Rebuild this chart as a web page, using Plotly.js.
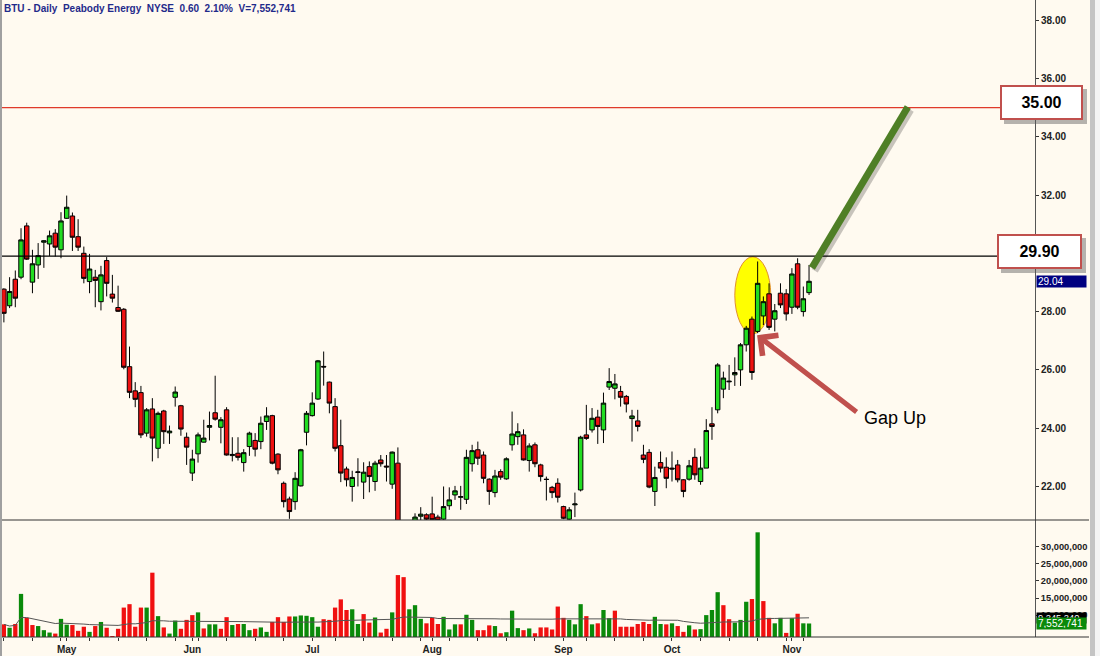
<!DOCTYPE html>
<html>
<head>
<meta charset="utf-8">
<script src="https://cdn.plot.ly/plotly-3.0.1.min.js"></script>
<style>
  html, body { margin: 0; padding: 0; background: #fffaf0; }
  #chart { width: 1100px; height: 656px; }
</style>
</head>
<body>
<div id="chart"></div>
<script>
// ---- Data (BTU daily, Apr 16 - Nov 6 2012) ----
const dates = [
 '2012-04-16','2012-04-17','2012-04-18','2012-04-19','2012-04-20','2012-04-23','2012-04-24','2012-04-25','2012-04-26','2012-04-27','2012-04-30',
 '2012-05-01','2012-05-02','2012-05-03','2012-05-04','2012-05-07','2012-05-08','2012-05-09','2012-05-10','2012-05-11','2012-05-14','2012-05-15','2012-05-16','2012-05-17','2012-05-18','2012-05-21','2012-05-22','2012-05-23','2012-05-24','2012-05-25','2012-05-29','2012-05-30','2012-05-31',
 '2012-06-01','2012-06-04','2012-06-05','2012-06-06','2012-06-07','2012-06-08','2012-06-11','2012-06-12','2012-06-13','2012-06-14','2012-06-15','2012-06-18','2012-06-19','2012-06-20','2012-06-21','2012-06-22','2012-06-25','2012-06-26','2012-06-27','2012-06-28','2012-06-29',
 '2012-07-02','2012-07-03','2012-07-05','2012-07-06','2012-07-09','2012-07-10','2012-07-11','2012-07-12','2012-07-13','2012-07-16','2012-07-17','2012-07-18','2012-07-19','2012-07-20','2012-07-23','2012-07-24','2012-07-25','2012-07-26','2012-07-27','2012-07-30','2012-07-31',
 '2012-08-01','2012-08-02','2012-08-03','2012-08-06','2012-08-07','2012-08-08','2012-08-09','2012-08-10','2012-08-13','2012-08-14','2012-08-15','2012-08-16','2012-08-17','2012-08-20','2012-08-21','2012-08-22','2012-08-23','2012-08-24','2012-08-27','2012-08-28','2012-08-29','2012-08-30','2012-08-31',
 '2012-09-04','2012-09-05','2012-09-06','2012-09-07','2012-09-10','2012-09-11','2012-09-12','2012-09-13','2012-09-14','2012-09-17','2012-09-18','2012-09-19','2012-09-20','2012-09-21','2012-09-24','2012-09-25','2012-09-26','2012-09-27','2012-09-28',
 '2012-10-01','2012-10-02','2012-10-03','2012-10-04','2012-10-05','2012-10-08','2012-10-09','2012-10-10','2012-10-11','2012-10-12','2012-10-15','2012-10-16','2012-10-17','2012-10-18','2012-10-19','2012-10-22','2012-10-23','2012-10-24','2012-10-25','2012-10-26','2012-10-31',
 '2012-11-01','2012-11-02','2012-11-05','2012-11-06'
];

const openP = [
 28.77,28.20,29.11,29.18,30.94,29.01,29.60,30.38,30.32,30.69,30.12,
 31.20,31.28,30.57,30.00,29.03,29.18,28.34,29.75,28.60,28.14,28.08,26.11,25.28,25.22,23.83,24.66,23.31,24.59,23.84,25.06,24.77,23.69,
 22.46,23.12,23.52,24.03,24.53,24.03,24.63,23.06,23.14,22.82,23.37,23.58,23.54,24.23,24.43,23.11,22.11,21.57,21.48,22.02,23.86,
 24.43,25.00,26.12,25.58,24.74,23.40,22.60,22.00,22.48,22.15,22.68,22.17,22.91,22.70,22.08,22.80,20.60,20.10,20.50,20.98,21.03,
 21.06,20.95,20.88,21.34,21.71,21.63,21.56,22.78,23.26,23.08,22.25,21.79,22.51,22.26,23.43,23.71,23.77,22.89,23.43,22.74,22.25,21.97,22.11,
 21.31,20.88,21.37,21.88,23.77,23.94,24.38,23.94,25.41,25.37,25.26,25.09,24.33,24.25,23.08,23.17,21.83,22.82,22.66,
 22.63,22.74,22.23,22.25,23.00,22.17,22.63,24.15,24.63,25.34,25.59,25.83,26.00,26.86,27.74,27.32,27.85,28.61,27.74,28.63,28.61,
 28.15,29.64,28.00,28.65
];
const highP = [
 28.80,29.18,29.41,30.86,31.05,30.12,30.35,30.45,30.78,30.83,31.41,
 31.98,31.40,31.17,30.23,29.98,29.43,29.57,29.87,29.26,28.89,28.12,26.80,25.58,25.45,24.69,25.03,24.57,24.63,24.09,25.43,24.80,23.85,
 23.26,23.85,24.29,24.57,25.80,24.38,24.72,23.69,23.69,23.28,23.88,23.83,24.40,24.72,24.46,23.14,22.17,21.65,22.49,23.29,24.59,
 25.23,26.34,26.63,25.60,25.03,24.29,22.68,22.54,22.97,22.83,22.86,22.88,23.08,23.08,23.20,23.34,20.75,20.60,21.08,21.29,21.08,
 21.65,21.03,22.00,21.97,22.02,22.02,23.26,23.43,23.54,23.20,22.28,22.57,22.59,23.00,24.57,24.17,23.96,23.48,23.51,22.78,22.34,22.02,22.28,
 21.34,21.29,21.79,23.74,24.80,24.69,24.63,25.22,26.06,25.86,25.45,25.14,24.63,24.63,23.43,23.28,22.68,23.20,23.00,
 23.20,22.91,22.25,22.91,23.31,23.03,24.31,24.72,26.23,25.94,26.17,26.43,26.92,27.51,27.83,29.72,28.52,28.97,28.26,28.97,28.77,
 29.49,29.83,28.86,29.60
];
const lowP = [
 27.63,28.12,28.15,29.11,29.77,28.63,29.12,29.50,29.91,29.89,29.83,
 31.18,30.08,30.08,28.97,28.63,28.15,28.04,28.52,28.31,27.99,26.02,25.03,24.72,23.66,23.71,22.86,22.97,23.46,23.46,24.74,23.74,22.74,
 22.19,22.82,23.51,23.58,24.26,23.48,23.06,22.86,22.89,22.51,23.05,23.03,23.28,23.94,22.76,22.42,21.28,20.89,21.20,22.00,23.41,
 24.40,24.97,25.46,24.51,23.20,22.15,22.00,21.48,22.00,21.57,21.80,21.85,22.68,22.17,21.92,20.50,19.80,19.90,20.40,20.80,20.70,
 20.70,20.70,20.80,21.20,21.54,21.20,21.40,22.51,22.74,22.11,21.37,21.63,22.23,22.23,23.23,23.43,22.89,22.51,22.66,22.17,21.52,21.60,21.45,
 20.88,20.80,20.95,21.83,23.60,23.85,23.46,23.49,25.31,24.99,24.74,24.54,23.54,23.89,22.80,21.94,21.33,22.48,21.94,
 22.17,22.14,21.63,22.20,22.23,22.06,22.63,23.60,24.51,25.03,25.31,25.45,25.45,26.63,25.66,27.26,27.54,27.37,27.32,28.12,27.69,
 27.92,28.08,27.83,28.57
];
const closeP = [
 27.94,28.69,28.46,30.46,29.80,29.64,29.92,30.43,30.60,30.21,31.11,
 31.58,30.55,30.21,29.14,29.46,29.07,29.26,28.97,28.46,28.01,26.09,25.23,24.99,23.77,24.63,23.66,24.51,23.88,23.90,25.24,23.97,23.35,
 22.94,23.77,23.66,24.09,24.31,24.29,23.08,23.10,23.00,23.16,23.83,23.28,24.17,24.42,22.80,22.57,21.48,21.14,22.28,23.26,24.51,
 24.86,26.31,26.10,24.86,23.31,22.46,22.23,22.31,22.50,22.49,22.34,22.80,22.78,22.67,23.18,20.70,20.00,20.40,20.95,21.05,20.88,
 20.86,20.84,21.31,21.54,21.85,21.65,23.00,23.23,22.97,22.28,21.83,22.36,22.32,22.95,23.80,23.88,22.91,23.39,22.78,22.34,22.24,21.79,21.63,
 20.91,21.20,21.40,23.69,23.65,24.34,24.06,24.86,25.60,25.52,25.06,24.83,24.42,24.06,22.93,21.98,22.31,22.63,22.28,
 22.60,22.23,21.83,22.71,22.40,22.63,23.92,24.06,26.17,25.72,25.61,25.91,26.86,27.43,25.91,28.97,28.34,27.46,28.03,28.23,27.92,
 29.29,28.15,28.44,29.04
];
// volume in millions of shares
const volumeM = [
 7.3,6.3,7.4,16.2,9.2,7.1,6.8,5.6,4.9,4.6,8.9,
 7.2,7.1,5.4,6.6,5.1,6.8,8.0,6.3,3.9,6.0,12.2,13.2,6.6,12.2,12.2,22.4,9.7,6.4,4.6,8.4,6.0,8.6,
 10.0,10.8,6.1,7.3,7.3,6.0,9.4,7.1,7.4,7.4,5.6,6.0,6.4,5.1,8.0,9.4,8.0,9.6,9.6,9.9,9.8,
 9.4,6.6,8.8,8.6,12.2,14.6,11.5,11.7,7.4,10.3,7.8,9.3,4.9,6.0,10.8,21.7,21.1,11.7,12.9,8.9,7.6,
 9.2,7.4,9.5,5.8,7.3,7.3,10.1,8.6,5.6,5.6,7.0,6.8,4.7,5.0,11.3,6.2,5.6,6.1,4.7,6.4,6.4,5.8,12.5,
 9.2,8.6,7.3,13.2,9.7,7.3,7.6,11.5,9.1,11.3,6.6,6.6,6.6,7.4,8.0,7.4,9.5,7.4,7.3,
 7.6,6.8,5.1,7.0,5.8,5.9,10.0,11.5,16.7,12.9,8.8,7.8,8.6,13.9,14.7,34.2,14.1,9.2,7.6,9.2,4.8,
 9.1,10.4,7.6,7.552741
];

const priceLevels = [35.00, 29.90];
const lastClose = 29.04;
const volLabels = [9245240, 7552741];
const monthStarts = ['2012-05-01','2012-06-01','2012-07-02','2012-08-01','2012-09-04','2012-10-01','2012-11-01'];
const monthLabels = ['May','Jun','Jul','Aug','Sep','Oct','Nov'];
// 30.00 sits behind the 29.90 box in the reference, so it is not shown
const priceTicks = [22,24,26,28,32,34,36,38];
const volTicks = [10e6,15e6,20e6,25e6,30e6];

// ---- derived ----
const volume = volumeM.map(v => v * 1e6);
const volColors = closeP.map((c, i) => {
  const ref = i === 0 ? openP[0] : closeP[i - 1];
  return c >= ref ? '#0a8a0a' : '#f01010';
});
// 50-day moving average of volume (shorter window at the start)
const volMA = volume.map((v, i) => {
  const s = Math.max(0, i - 49);
  let sum = 0;
  for (let k = s; k <= i; k++) sum += volume[k];
  return sum / (i - s + 1);
});

// weekly + month ticks
const tickVals = [], tickText = [];
for (let i = 0; i < dates.length; i++) {
  const d = new Date(dates[i] + 'T00:00:00Z');
  const mIdx = monthStarts.indexOf(dates[i]);
  let newWeek = i === 0;
  if (i > 0) {
    const p = new Date(dates[i - 1] + 'T00:00:00Z');
    newWeek = d.getUTCDay() < p.getUTCDay();
  }
  if (mIdx >= 0 || newWeek) {
    tickVals.push(dates[i]);
    tickText.push(mIdx >= 0 ? monthLabels[mIdx] : '');
  }
}

const splitY = 117 / 637;
const pxX = p => (p - 2) / 1033; // paper x from pixel
const FONT = 'Arial, Liberation Sans, sans-serif';

const data = [
  {
    type: 'bar', x: dates, y: volume, xaxis: 'x', yaxis: 'y',
    marker: { color: volColors, line: { width: 0 } }, hoverinfo: 'skip'
  },
  {
    type: 'scatter', mode: 'lines', x: dates, y: volMA, xaxis: 'x', yaxis: 'y',
    line: { color: '#555', width: 1 }, hoverinfo: 'skip'
  },
  {
    type: 'candlestick', x: dates, open: openP, high: highP, low: lowP, close: closeP,
    xaxis: 'x2', yaxis: 'y2', whiskerwidth: 0,
    increasing: { line: { color: '#000', width: 1 }, fillcolor: '#22dd22' },
    decreasing: { line: { color: '#000', width: 1 }, fillcolor: '#ee1111' },
    hoverinfo: 'skip'
  }
];

const layout = {
  width: 1100, height: 656,
  margin: { l: 2, r: 65, t: 0, b: 19 },
  paper_bgcolor: '#fffaf0', plot_bgcolor: '#fffaf0',
  showlegend: false, bargap: 0.25, boxgap: 0.22, boxgroupgap: 0,
  font: { family: FONT, size: 10, color: '#222' },
  xaxis: {
    type: 'category', range: [-0.33, 180.57], anchor: 'y',
    tickmode: 'array', tickvals: tickVals, ticktext: tickText,
    ticks: 'outside', ticklen: 3, tickcolor: '#333', tickwidth: 1,
    tickfont: { family: FONT, size: 10, color: '#222', weight: 'bold' },
    showgrid: false, zeroline: false, showline: false, fixedrange: true,
    rangeslider: { visible: false }
  },
  xaxis2: {
    type: 'category', matches: 'x', anchor: 'y2', showticklabels: false,
    ticks: '', showgrid: false, zeroline: false, showline: false,
    rangeslider: { visible: false }
  },
  yaxis: {
    domain: [0, splitY], side: 'right', range: [3.6e6, 37.8e6],
    tickmode: 'array', tickvals: volTicks, tickformat: ',d',
    ticks: 'outside', ticklen: 3, tickcolor: '#333',
    showline: true, linecolor: '#555', linewidth: 1, mirror: false,
    showgrid: false, zeroline: false,
    tickfont: { family: FONT, size: 9.3, color: '#222', weight: 'bold' }
  },
  yaxis2: {
    domain: [splitY, 1], side: 'right', range: [20.85, 38.69],
    tickmode: 'array', tickvals: priceTicks, tickformat: '.2f',
    ticks: 'outside', ticklen: 3, tickcolor: '#333',
    showline: true, linecolor: '#555', linewidth: 1,
    showgrid: false, zeroline: false,
    tickfont: { family: FONT, size: 10, color: '#222', weight: 'bold' }
  },
  shapes: [
    // pane separators
    { type: 'line', xref: 'paper', yref: 'paper', x0: 0, x1: pxX(1089), y0: splitY, y1: splitY, line: { color: '#333', width: 1 } },
    { type: 'line', xref: 'paper', yref: 'paper', x0: 0, x1: pxX(1089), y0: 0, y1: 0, line: { color: '#333', width: 1 } },
    // left border and right strip
    { type: 'rect', xref: 'paper', yref: 'paper', x0: pxX(0), x1: pxX(2), y0: -0.03, y1: 1, fillcolor: '#a0a0a0', line: { width: 0 } },
    { type: 'rect', xref: 'paper', yref: 'paper', x0: pxX(1090), x1: pxX(1095), y0: -0.03, y1: 1, fillcolor: '#c4c4c4', line: { width: 0 } },
    { type: 'rect', xref: 'paper', yref: 'paper', x0: pxX(1095), x1: pxX(1100), y0: -0.03, y1: 1, fillcolor: '#f4f4f4', line: { width: 0 } },
    // yellow ellipse (below candles)
    { type: 'circle', xref: 'x2', yref: 'y2', x0: 128.0, x1: 134.3, y0: 27.24, y1: 29.88,
      fillcolor: '#ffff00', line: { color: '#e09030', width: 1 }, layer: 'below' },
    // horizontal price levels
    { type: 'line', xref: 'paper', yref: 'y2', x0: 0, x1: 1, y0: priceLevels[0], y1: priceLevels[0], line: { color: '#e03a2a', width: 1.2 } },
    { type: 'line', xref: 'paper', yref: 'y2', x0: 0, x1: 1, y0: priceLevels[1], y1: priceLevels[1], line: { color: '#000', width: 1.3 } },
    // green trend arrow line with shadow
    { type: 'line', xref: 'x2', yref: 'y2', x0: 142.0, y0: 29.40, x1: 158.8, y1: 34.92, line: { color: 'rgba(0,0,0,0.22)', width: 7 } },
    { type: 'line', xref: 'x2', yref: 'y2', x0: 141.5, y0: 29.50, x1: 158.3, y1: 35.02, line: { color: '#4f7f26', width: 7 } }
  ],
  annotations: [
    { xref: 'paper', yref: 'paper', x: pxX(2), y: 1, xanchor: 'left', yanchor: 'top', yshift: -1,
      text: 'BTU - Daily  Peabody Energy  NYSE  0.60  2.10%  V=7,552,741', showarrow: false,
      font: { family: FONT, size: 10, color: '#1f2a8a', weight: 'bold' } },
    // 35.00 box
    { xref: 'paper', yref: 'y2', x: pxX(1041.5), y: 35.18, xanchor: 'center', yanchor: 'middle', xshift: 4, yshift: -4,
      text: ' ', showarrow: false,
      width: 79, height: 31, bgcolor: 'rgba(90,90,90,0.45)', borderwidth: 2, bordercolor: 'rgba(0,0,0,0)' },
    { xref: 'paper', yref: 'y2', x: pxX(1041.5), y: 35.18, xanchor: 'center', yanchor: 'middle',
      text: '<b>35.00</b>', showarrow: false,
      width: 79, height: 31, bgcolor: '#ffffff', bordercolor: '#c0504d', borderwidth: 2, borderpad: 0,
      font: { family: FONT, size: 16, color: '#000' } },
    // 29.90 box
    { xref: 'paper', yref: 'y2', x: pxX(1039.5), y: 30.05, xanchor: 'center', yanchor: 'middle', xshift: 4, yshift: -4,
      text: ' ', showarrow: false,
      width: 81, height: 31, bgcolor: 'rgba(90,90,90,0.45)', borderwidth: 2, bordercolor: 'rgba(0,0,0,0)' },
    { xref: 'paper', yref: 'y2', x: pxX(1039.5), y: 30.05, xanchor: 'center', yanchor: 'middle',
      text: '<b>29.90</b>', showarrow: false,
      width: 81, height: 31, bgcolor: '#ffffff', bordercolor: '#c0504d', borderwidth: 2, borderpad: 0,
      font: { family: FONT, size: 16, color: '#000' } },
    // last price label
    { xref: 'paper', yref: 'y2', x: pxX(1036), y: lastClose, xanchor: 'left', yanchor: 'middle',
      text: lastClose.toFixed(2), showarrow: false, width: 47, height: 9, align: 'left', borderpad: 1,
      bgcolor: '#000080', font: { family: FONT, size: 10, color: '#fff' } },
    // volume labels
    { xref: 'paper', yref: 'y', x: pxX(1036), y: volLabels[0], xanchor: 'left', yanchor: 'middle',
      text: volLabels[0].toLocaleString('en-US'), showarrow: false, width: 47, height: 8, align: 'left', borderpad: 1,
      bgcolor: '#000000', font: { family: FONT, size: 9.3, color: '#fff' } },
    { xref: 'paper', yref: 'y', x: pxX(1036), y: volLabels[1], xanchor: 'left', yanchor: 'middle',
      text: volLabels[1].toLocaleString('en-US'), showarrow: false, width: 47, height: 9, align: 'left', borderpad: 1,
      bgcolor: '#0a8a0a', font: { family: FONT, size: 10, color: '#fff' } },
    // Gap Up arrow
    { xref: 'x2', yref: 'y2', x: 131.9, y: 27.19, ax: 101, ay: 78, text: '', showarrow: true,
      arrowhead: 4, arrowsize: 1, arrowwidth: 5, arrowcolor: '#c0504d', standoff: 0 },
    { xref: 'x2', yref: 'y2', x: 150.3, y: 24.35, xanchor: 'left', yanchor: 'middle', text: 'Gap Up', showarrow: false,
      font: { family: FONT, size: 18, color: '#000' } }
  ]
};

Plotly.newPlot('chart', data, layout, { staticPlot: true, displayModeBar: false });
</script>
</body>
</html>
